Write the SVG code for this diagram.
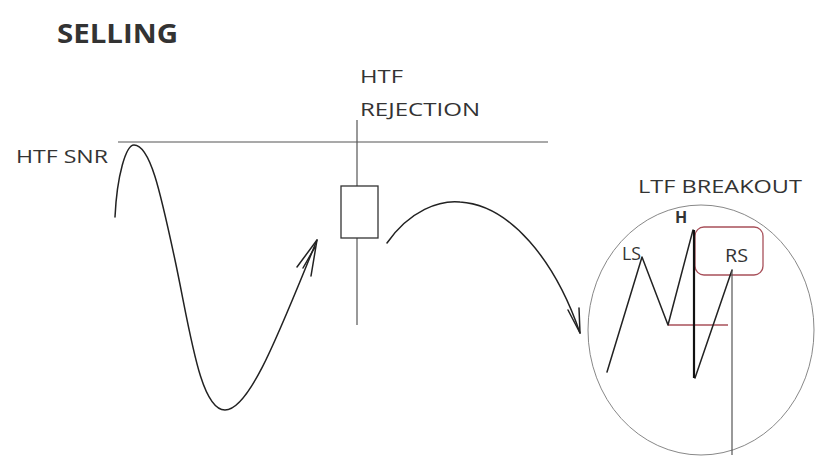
<svg xmlns="http://www.w3.org/2000/svg" width="815" height="456" viewBox="0 0 815 456">
<style>
.t{font-family:"Open Sans","Liberation Sans",sans-serif;fill:#333;font-size:18px}
.k{fill:none;stroke:#222;stroke-width:1.5;stroke-linecap:round;stroke-linejoin:round}
.g{fill:none;stroke:#555;stroke-width:1.2}
.r{fill:none;stroke:#a8505a;stroke-width:1.3}
</style>
<rect width="815" height="456" fill="#fff"/>
<g id="title"><text class="t" x="57" y="43" style="font-size:26px;font-weight:bold" textLength="121" lengthAdjust="spacingAndGlyphs">SELLING</text></g>
<g id="snr">
<text class="t" x="16" y="163" textLength="92" lengthAdjust="spacingAndGlyphs">HTF SNR</text>
<line class="g" x1="118" y1="142" x2="548" y2="142"/>
</g>
<g id="rejection">
<text class="t" x="360" y="83" textLength="43" lengthAdjust="spacingAndGlyphs">HTF</text>
<text class="t" x="360" y="116" textLength="120" lengthAdjust="spacingAndGlyphs">REJECTION</text>
<line class="g" x1="357" y1="120" x2="357" y2="325"/>
<rect x="341" y="186" width="37" height="52" fill="#fff" stroke="#333" stroke-width="1.3"/>
</g>
<g id="connectors">
<path class="k" d="M115,217 C117,175 126,145 134,145 C150,145 160,190 175,260 C190,330 200,410 225,410 C250,410 280,330 317,240"/>
<path class="k" d="M297,267 L317,240 L311,276 M303,268 L315,247"/>
<path class="k" d="M387,243 C410,210 440,200 460,202 C510,205 555,260 580,333"/>
<path class="k" d="M568,310 L580,333 L579,308"/>
</g>
<g id="breakout">
<ellipse cx="701" cy="330" rx="113" ry="125" fill="none" stroke="#888" stroke-width="1"/>
<text class="t" x="638" y="193" textLength="164" lengthAdjust="spacingAndGlyphs">LTF BREAKOUT</text>
<rect class="r" x="695" y="227" width="68" height="48" rx="9"/>
<line class="r" x1="668" y1="325" x2="728" y2="325"/>
<path class="k" d="M607,372 L642,257 L668,325 L693,230 M695,378 L732,270"/>
<line x1="694" y1="230" x2="694" y2="378" stroke="#111" stroke-width="2.2"/>
<line class="g" x1="732" y1="270" x2="732" y2="455"/>
<text class="t" x="675" y="223" style="font-size:16px;font-weight:bold">H</text>
<text class="t" x="622" y="260" style="font-size:19px" textLength="19" lengthAdjust="spacingAndGlyphs">LS</text>
<text class="t" x="725" y="262" style="font-size:19px" textLength="23" lengthAdjust="spacingAndGlyphs">RS</text>
</g>
</svg>
